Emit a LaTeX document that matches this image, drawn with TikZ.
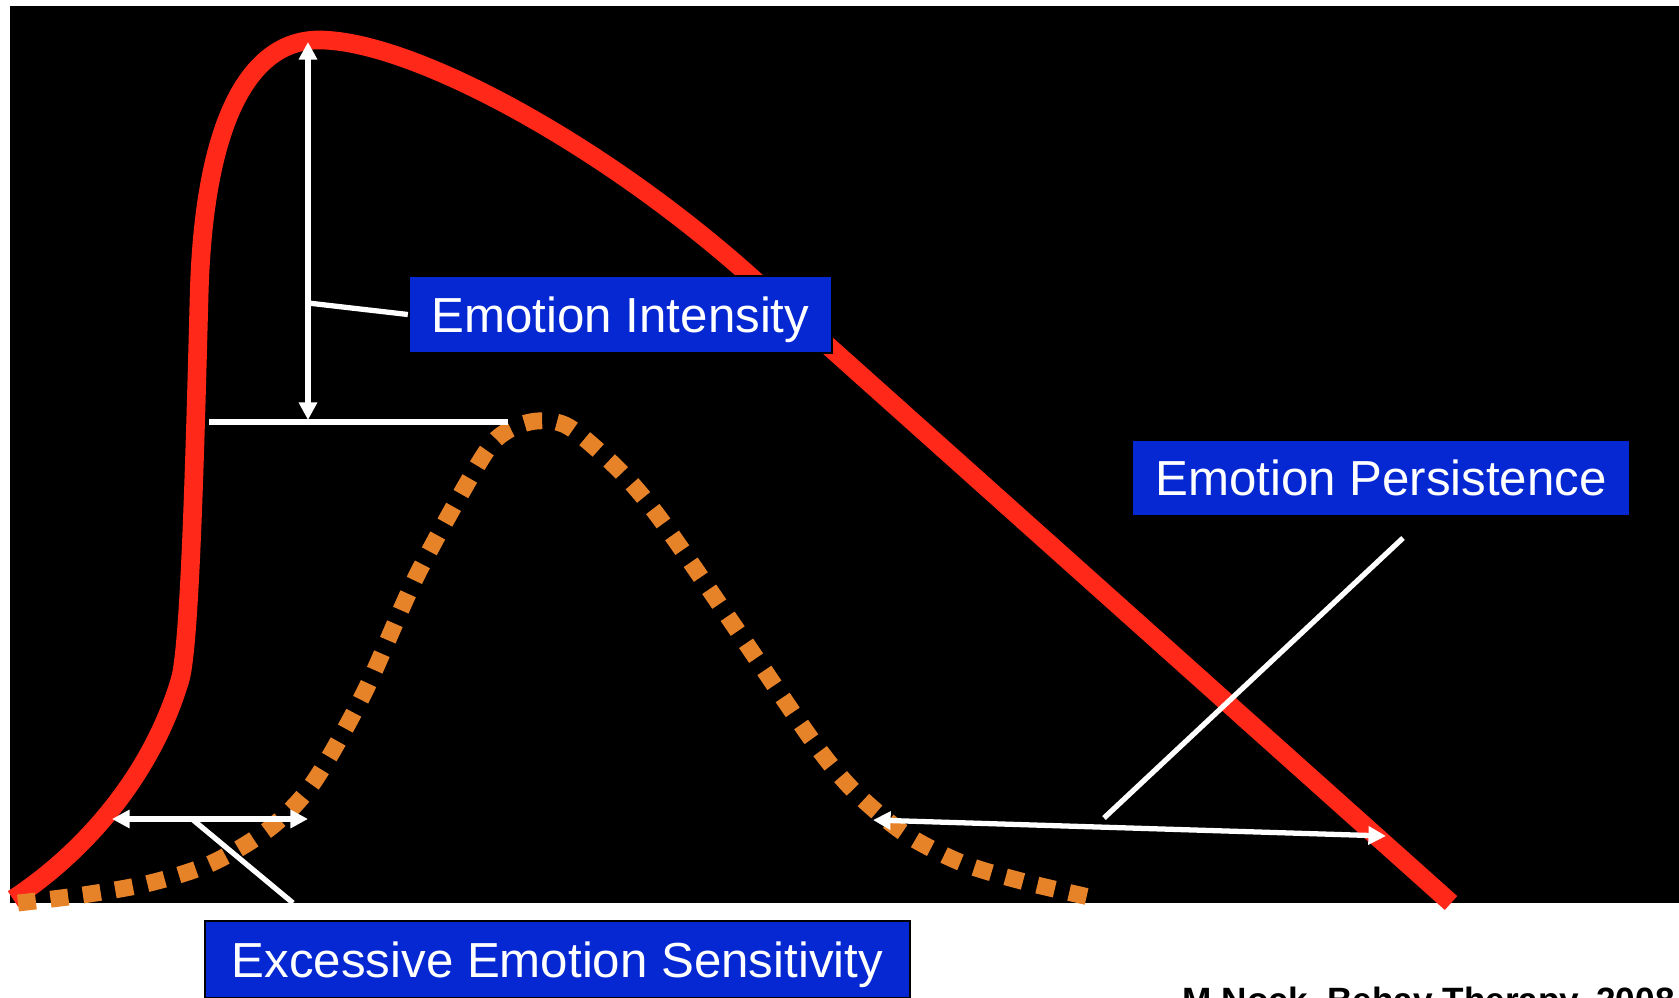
\documentclass[tikz,border=0pt]{standalone}
\usepackage{fontspec}
\setmainfont{Liberation Sans}
\usetikzlibrary{arrows.meta}
\definecolor{slideblue}{RGB}{5,40,210}
\definecolor{curvered}{RGB}{255,40,25}
\definecolor{curveorange}{RGB}{230,130,40}

\begin{document}
\begin{tikzpicture}[x=0.01cm, y=-0.01cm,
  callout/.style={rectangle, draw=black, line width=0.6pt, fill=slideblue, text=white, font=\fontsize{14}{16}\selectfont, minimum height=0.77cm, text depth=0pt, inner sep=0pt},
  pointer/.style={draw=white, line width=1.5pt},
  twoway/.style={pointer, {Triangle[length=5pt,width=5pt]}-{Triangle[length=5pt,width=5pt]}},
  redcurve/.style={draw=curvered, line width=5.3pt},
  orangecurve/.style={draw=curveorange, line width=4.8pt, dash pattern=on 5.1pt off 4.2pt}
]
  \useasboundingbox (0,0) rectangle (1679,997);
  \fill[black] (10,6) rectangle (1679,903);

  \draw[redcurve] (13,899) .. controls (80,855) and (150,780) .. (180,680)
    .. controls (190,647) and (195,450) .. (199,300)
    .. controls (203,120) and (250,40) .. (319,40)
    .. controls (410,40) and (600,142) .. (750,276) -- (1451,903);

  \draw[orangecurve] plot[smooth, tension=0.5] coordinates {(18,903) (83,895) (150,883) (212,863) (270,828) (313,783) (364,693) (418,573) (482,458) (507,431) (537,421) (569,427) (619,470) (661,520) (737,630) (812,740) (853,790) (904,833) (962,863) (1025,882) (1098,899)};

  \node[callout, minimum width=4.23cm] (intensity) at (620.5,314.5) {Emotion Intensity};
  \node[callout, minimum width=4.98cm] (persist) at (1381,478) {Emotion Persistence};
  \node[callout, minimum width=7.05cm] (sensitive) at (557.5,959.5) {Excessive Emotion Sensitivity};
  \node[font=\bfseries\fontsize{10}{12}\selectfont, anchor=base west, inner sep=0pt] (cite) at (1182,1012) {M Nock, Behav Therapy, 2008};

  \coordinate (peaktop) at (308,42);
  \coordinate (peakfoot) at (308,420);
  \coordinate (barleft) at (209,422);
  \coordinate (barright) at (508,422);
  \coordinate (intfoot) at (308,303);
  \coordinate (sensleft) at (112,819);
  \coordinate (sensright) at (308,819);
  \coordinate (sensfoot) at (192,819);
  \coordinate (sensend) at (293,903);
  \coordinate (perleft) at (873,820);
  \coordinate (perright) at (1386,836);
  \coordinate (perfoot) at (1104,818);
  \coordinate (pertop) at (1403,538);

  \draw[twoway] (peaktop) -- (peakfoot);
  \draw[pointer] (barleft) -- (barright);
  \draw[pointer] (intfoot) -- (intensity.west);
  \draw[twoway] (sensleft) -- (sensright);
  \draw[pointer] (sensfoot) -- (sensend);
  \draw[twoway] (perleft) -- (perright);
  \draw[pointer] (perfoot) -- (pertop);
\end{tikzpicture}
\end{document}
